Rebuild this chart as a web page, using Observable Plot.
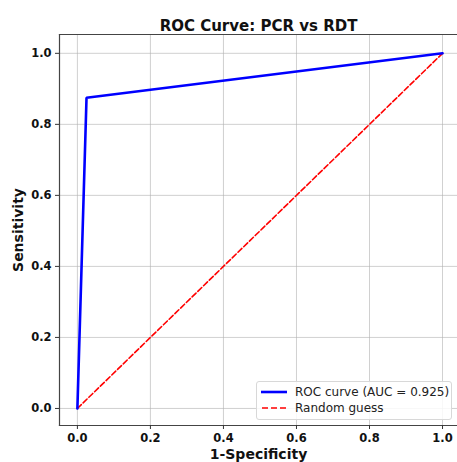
<!DOCTYPE html>
<html><head><meta charset="utf-8">
<script src="https://cdn.jsdelivr.net/npm/d3@7"></script>
<script src="https://cdn.jsdelivr.net/npm/@observablehq/plot@0.6"></script>
<style>
body{margin:0;background:#fff;font-family:"DejaVu Sans",sans-serif;}
#wrap{position:relative;width:457px;height:462px;overflow:hidden;}
#legend{position:absolute;left:256px;top:381px;width:196px;height:39px;border:1px solid #d8d8d8;border-radius:3px;background:rgba(255,255,255,0.85);font-size:12px;color:#222;box-sizing:border-box;}
.row{position:absolute;left:4px;display:flex;align-items:center;white-space:nowrap;}
.sw{margin-right:8px;display:block;}
</style></head>
<body><div id="wrap"><div id="legend"></div></div>
<script>
const rocFpr = [0, 0.025, 1];
const rocTpr = [0, 0.875, 1];
const guessX = [0, 1];
const guessY = [0, 1];
const ticks = [0, 0.2, 0.4, 0.6, 0.8, 1.0];
const title = "ROC Curve: PCR vs RDT";
const xLabel = "1-Specificity";
const yLabel = "Sensitivity";
const legendLabels = ["ROC curve (AUC = 0.925)", "Random guess"];

const roc = rocFpr.map((x, i) => ({x, y: rocTpr[i]}));
const guess = guessX.map((x, i) => ({x, y: guessY[i]}));

const chart = Plot.plot({
  width: 457, height: 462,
  marginLeft: 59, marginRight: 0, marginTop: 34, marginBottom: 37,
  style: {fontFamily: "DejaVu Sans, sans-serif", fontSize: "11px", fontWeight: "bold", color: "#111", background: "white"},
  x: {domain: [-0.049, 1.041], ticks: ticks, tickFormat: d3.format(".1f"), label: null, tickSize: 4},
  y: {domain: [-0.048, 1.053], ticks: ticks, tickFormat: d3.format(".1f"), label: null, tickSize: 4},
  marks: [
    Plot.gridX(ticks, {stroke: "#b0b0b0", strokeOpacity: 0.6, strokeWidth: 1}),
    Plot.gridY(ticks, {stroke: "#b0b0b0", strokeOpacity: 0.6, strokeWidth: 1}),
    Plot.frame({anchor: "top", stroke: "#444", strokeWidth: 1.2}),
    Plot.frame({anchor: "left", stroke: "#444", strokeWidth: 1.2}),
    Plot.frame({anchor: "bottom", stroke: "#444", strokeWidth: 1.2}),
    Plot.axisX(ticks, {tickFormat: d3.format(".1f"), tickSize: 4, tickPadding: 4, stroke: "#333", fontWeight: "bold", fontSize: 11.5}),
    Plot.axisY(ticks, {tickFormat: d3.format(".1f"), tickSize: 4, tickPadding: 4, stroke: "#333", fontWeight: "bold", fontSize: 11.5}),
    Plot.line(guess, {x: "x", y: "y", stroke: "red", strokeWidth: 1.6, strokeDasharray: "5.5,2.5"}),
    Plot.line(roc, {x: "x", y: "y", stroke: "blue", strokeWidth: 2.6, strokeLinejoin: "miter"}),
    Plot.text([title], {frameAnchor: "top", dy: -14, fontSize: 15, fontWeight: "bold", text: d => d}),
    Plot.text([xLabel], {frameAnchor: "bottom", dy: 33, fontSize: 14, fontWeight: "bold", text: d => d}),
    Plot.text([yLabel], {frameAnchor: "left", textAnchor: "middle", dx: -41, rotate: -90, fontSize: 14, fontWeight: "bold", text: d => d})
  ]
});
document.getElementById("wrap").prepend(chart);
const leg = document.getElementById("legend");
const swatches = [
  '<line x1="0" y1="4" x2="26" y2="4" stroke="blue" stroke-width="2.6"/>',
  '<line x1="1" y1="4" x2="26" y2="4" stroke="red" stroke-width="1.6" stroke-dasharray="6,3"/>'
];
legendLabels.forEach((t, i) => {
  const r = document.createElement("div");
  r.className = "row";
  r.style.top = (3 + i * 16) + "px";
  r.innerHTML = `<svg class="sw" width="26" height="8">${swatches[i]}</svg><span>${t}</span>`;
  leg.appendChild(r);
});
</script></body></html>
